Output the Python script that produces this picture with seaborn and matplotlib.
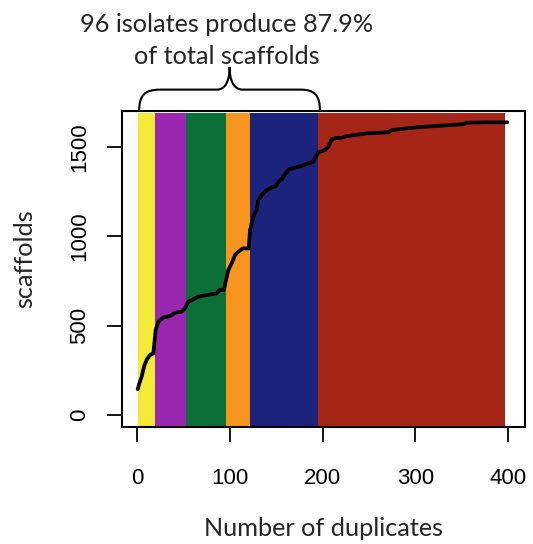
import matplotlib
matplotlib.use("Agg")
import matplotlib.pyplot as plt
import pandas as pd
import seaborn as sns
from matplotlib.path import Path
from matplotlib.patches import PathPatch

# Cumulative scaffold count against the number of duplicates
duplicates = [0.4, 2.2, 4.7, 7.2, 10, 13.7, 17.3, 18.4, 19.8, 22.7, 28, 33.5, 37, 40.7,
              47.9, 51.5, 55, 60.4, 65.8, 74.9, 82, 85.7, 88.5, 93.5, 95.7, 98.2, 101.8,
              105.4, 109, 113.7, 120.2, 121.6, 123.4, 125.9, 128.8, 130.5, 134.2, 139.6,
              145, 149.6, 152.1, 155.8, 159.3, 164, 170.1, 177.3, 182.7, 189.9, 192.8,
              195.3, 202.5, 206, 209.7, 213.3, 220.5, 225.9, 247.5, 270.8, 274.4, 301.4,
              326.5, 351.7, 355.3, 376.9, 399]
scaffolds = [144, 177, 214, 270, 308, 336, 345, 401, 475, 522, 546, 550, 559, 572,
             578, 597, 634, 647, 662, 671, 677, 680, 699, 699, 755, 811, 848,
             895, 913, 932, 932, 1035, 1072, 1119, 1147, 1202, 1230, 1258,
             1273, 1281, 1305, 1318, 1348, 1374, 1383, 1393, 1404, 1417, 1445,
             1469, 1482, 1500, 1542, 1548, 1551, 1560, 1575, 1581, 1594, 1609,
             1618, 1627, 1635, 1637, 1637]

# Isolate groups shown as coloured bands
band_edges = [1, 19, 52, 96, 122, 195, 397]
band_colors = ["#f4ea38", "#9b27b0", "#0b6f3a", "#f7951f", "#1b237c", "#a52616"]

title_lines = ["96 isolates produce 87.9%", "of total scaffolds"]
x_ticks = [0, 100, 200, 300, 400]
y_ticks = [0, 500, 1000, 1500]

sns.set_theme(style="white")
plt.rcParams["font.family"] = ["Liberation Sans", "DejaVu Sans"]

fig = plt.figure(figsize=(5.33, 5.44), dpi=100)
ax = fig.add_axes([0.2289, 0.2156, 0.7561, 0.5803])

for lo, hi, c in zip(band_edges[:-1], band_edges[1:], band_colors):
    ax.axvspan(lo, hi, ymin=0, ymax=0.993, color=c, lw=0, zorder=1)

df = pd.DataFrame({"duplicates": duplicates, "scaffolds": scaffolds})
sns.lineplot(data=df, x="duplicates", y="scaffolds", color="black", lw=2.7,
             ax=ax, zorder=3, sort=False)

ax.set_xlim(-16.5, 418.2)
ax.set_ylim(-65.4, 1700.2)
ax.set_xticks(x_ticks)
ax.set_yticks(y_ticks)
ax.set_xticklabels([str(t) for t in x_ticks])
ax.set_yticklabels([str(t) for t in y_ticks])
for s in ax.spines.values():
    s.set_color("black")
    s.set_linewidth(1.5)
ax.tick_params(axis="both", which="major", direction="out", length=11, width=1.3,
               color="black", labelsize=16, labelcolor="black",
               bottom=True, left=True)
ax.tick_params(axis="x", pad=19)
ax.tick_params(axis="y", pad=12, labelrotation=90)
for lab in ax.get_yticklabels():
    lab.set_va("center")

label_font = ["Lato", "DejaVu Sans"]
ax.set_xlabel("")
ax.set_ylabel("")
fig.text(323 / 533, 1 - 529 / 544, "Number of duplicates", ha="center", va="center",
         fontsize=18.2, family=label_font)
fig.text(25 / 533, 1 - 259 / 544, "scaffolds", ha="center", va="center",
         rotation=90, fontsize=18.2, family=label_font)
fig.text(227 / 533, 1 - 25 / 544, title_lines[0], ha="center", va="center",
         fontsize=18.2, family=label_font)
fig.text(227 / 533, 1 - 56 / 544, title_lines[1], ha="center", va="center",
         fontsize=18.2, family=label_font)

# Curly brace spanning the first five groups
verts = [(2, 1700), (2, 1790), (8, 1820), (25, 1820),
         (86, 1820),
         (95, 1820), (99.6, 1870), (99.6, 1946),
         (99.6, 1870), (104, 1820), (113.6, 1820),
         (176, 1820),
         (191, 1820), (197, 1790), (197, 1700)]
codes = [Path.MOVETO, Path.CURVE4, Path.CURVE4, Path.CURVE4,
         Path.LINETO,
         Path.CURVE4, Path.CURVE4, Path.CURVE4,
         Path.CURVE4, Path.CURVE4, Path.CURVE4,
         Path.LINETO,
         Path.CURVE4, Path.CURVE4, Path.CURVE4]
ax.add_patch(PathPatch(Path(verts, codes), fill=False, lw=1.5, color="black",
                       clip_on=False, zorder=5))

fig.savefig("out.png", dpi=100)
